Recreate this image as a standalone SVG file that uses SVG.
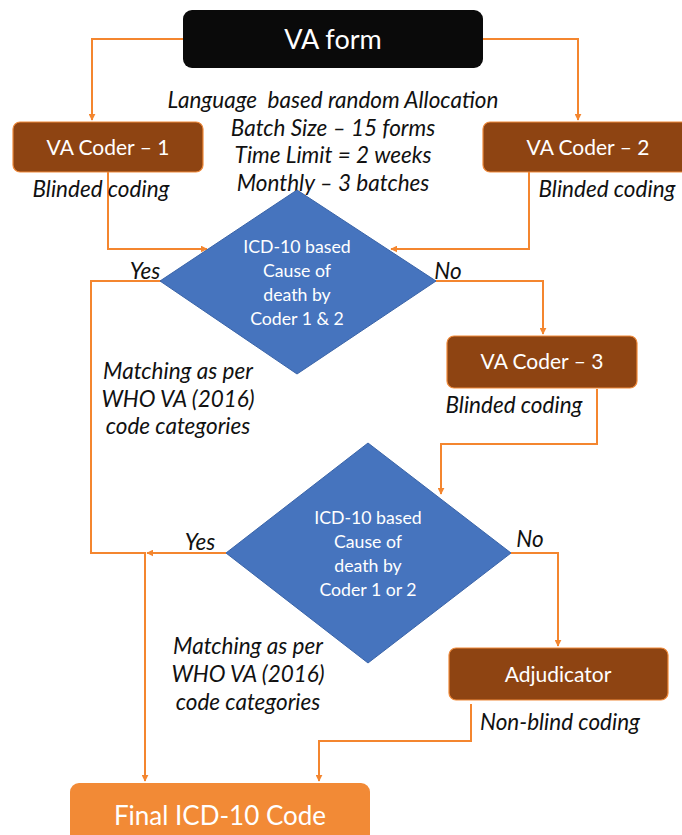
<svg xmlns="http://www.w3.org/2000/svg" width="682" height="835" viewBox="0 0 682 835">
<defs>
<marker id="arr" viewBox="0 0 10 10" refX="9" refY="5" markerWidth="7" markerHeight="7" orient="auto" markerUnits="userSpaceOnUse">
<path d="M0,0 L10,5 L0,10 z" fill="#F4862F"/>
</marker>
<style>
.t{font-family:Lato,"Open Sans",sans-serif;fill:#fff;text-anchor:middle}
.i{font-family:Lato,"Open Sans",sans-serif;font-style:italic;fill:#111;text-anchor:middle;font-size:22.5px}
.c{fill:none;stroke:#F4862F;stroke-width:2}
.brown{fill:#8E4412;stroke:#F08A3A;stroke-width:1.2}
.dia{fill:#4674BE;stroke:#3A64A8;stroke-width:1}
</style>
</defs>
<rect width="682" height="835" fill="#fff"/>
<g id="connectors">
<path class="c" d="M183,39 H92 V120" marker-end="url(#arr)"/>
<path class="c" d="M483,39 H578 V120" marker-end="url(#arr)"/>
<path class="c" d="M108,172 V249 H207" marker-end="url(#arr)"/>
<path class="c" d="M529,172 V249 H391" marker-end="url(#arr)"/>
<path class="c" d="M165,281 H91 V553 H146"/>
<path class="c" d="M435,281 H543 V334" marker-end="url(#arr)"/>
<path class="c" d="M597,389 V444 H441 V494" marker-end="url(#arr)"/>
<path class="c" d="M226,553 H147" marker-end="url(#arr)"/>
<path class="c" d="M145,553 V781" marker-end="url(#arr)"/>
<path class="c" d="M511,553 H558 V646" marker-end="url(#arr)"/>
<path class="c" d="M471,704 V741 H319 V781" marker-end="url(#arr)"/>
</g>
<g id="va-form">
<rect x="183" y="10" width="300" height="58" rx="9" fill="#0A0A0A"/>
<text class="t" x="333" y="49" font-size="27">VA form</text>
</g>
<g id="allocation-note">
<text class="i" x="333" y="108" xml:space="preserve" style="white-space:pre">Language  based random Allocation</text>
<text class="i" x="333" y="136">Batch Size – 15 forms</text>
<text class="i" x="333" y="163">Time Limit = 2 weeks</text>
<text class="i" x="333" y="191">Monthly – 3 batches</text>
</g>
<g id="coder1">
<rect class="brown" x="13" y="122" width="190" height="50" rx="7"/>
<text class="t" x="108" y="155" font-size="21">VA Coder – 1</text>
<text class="i" x="101" y="197">Blinded coding</text>
</g>
<g id="coder2">
<rect class="brown" x="483" y="122" width="210" height="50" rx="7"/>
<text class="t" x="588" y="155" font-size="21">VA Coder – 2</text>
<text class="i" x="607" y="197">Blinded coding</text>
</g>
<g id="decision1">
<polygon class="dia" points="297,190 436,281 297,374 160,281"/>
<text class="t" x="297" y="253" font-size="17.7">ICD-10 based</text>
<text class="t" x="297" y="277" font-size="17.7">Cause of</text>
<text class="t" x="297" y="301" font-size="17.7">death by</text>
<text class="t" x="297" y="325" font-size="17.7">Coder 1 &amp; 2</text>
<text class="i" x="145" y="279">Yes</text>
<text class="i" x="448" y="279">No</text>
<text class="i" x="178" y="379">Matching as per</text>
<text class="i" x="178" y="407">WHO VA (2016)</text>
<text class="i" x="178" y="434">code categories</text>
</g>
<g id="coder3">
<rect class="brown" x="447" y="336" width="190" height="52" rx="7"/>
<text class="t" x="542" y="369" font-size="21">VA Coder – 3</text>
<text class="i" x="514" y="413">Blinded coding</text>
</g>
<g id="decision2">
<polygon class="dia" points="368,443 511,553 368,663 226,553"/>
<text class="t" x="368" y="524" font-size="17.7">ICD-10 based</text>
<text class="t" x="368" y="548" font-size="17.7">Cause of</text>
<text class="t" x="368" y="572" font-size="17.7">death by</text>
<text class="t" x="368" y="596" font-size="17.7">Coder 1 or 2</text>
<text class="i" x="200" y="550">Yes</text>
<text class="i" x="530" y="547">No</text>
<text class="i" x="248" y="654">Matching as per</text>
<text class="i" x="248" y="682">WHO VA (2016)</text>
<text class="i" x="248" y="710">code categories</text>
</g>
<g id="adjudicator">
<rect class="brown" x="449" y="648" width="219" height="52" rx="7"/>
<text class="t" x="558" y="682" font-size="21">Adjudicator</text>
<text class="i" x="560" y="730">Non-blind coding</text>
</g>
<g id="final">
<rect x="70" y="783" width="300" height="70" rx="9" fill="#F28A36"/>
<text class="t" x="220" y="825" font-size="26">Final ICD-10 Code</text>
</g>
</svg>
